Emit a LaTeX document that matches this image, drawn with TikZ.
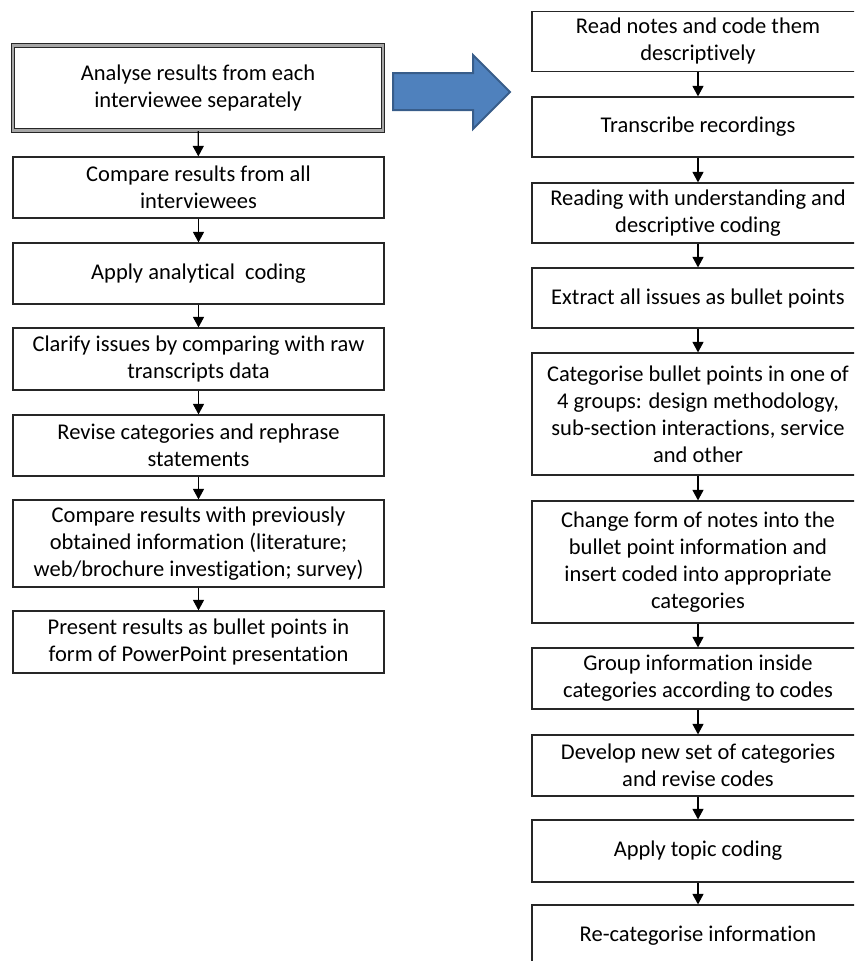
\documentclass[tikz,border=0pt]{standalone}
\usepackage{fontspec}
\setmainfont[RawFeature={-liga}]{Carlito}
\usetikzlibrary{arrows.meta}
\definecolor{arrowfill}{HTML}{4F81BD}
\definecolor{arrowedge}{HTML}{385D8A}
\begin{document}
\begin{tikzpicture}[x=1pt,y=-1pt,
  stepbox/.style={draw=black!85, line width=1.2pt, fill=white, align=center,
    inner sep=0pt, font=\fontsize{22.5}{27}\selectfont},
  leftbox/.style={stepbox, minimum width=371pt},
  rightbox/.style={stepbox, minimum width=332pt},
  firstbox/.style={leftbox, draw=black!85, double=black!35, double distance=2.6pt,
    line width=1.1pt, minimum width=370pt},
  flow/.style={line width=1.2pt, -{Triangle[width=11pt,length=10.5pt]}}]
\useasboundingbox (0,0) rectangle (854,961);
\clip (0,0) rectangle (854,961);

% left column
\node[firstbox, minimum height=85pt] (l1) at (198,88) {Analyse results from each\\interviewee separately};
\node[leftbox, minimum height=61pt] (l2) at (198.5,187.5) {Compare results from all\\interviewees};
\node[leftbox, minimum height=61pt] (l3) at (198.5,273.5) {Apply analytical\ \ coding};
\node[leftbox, minimum height=62pt] (l4) at (198.5,359) {Clarify issues by comparing with raw\\transcripts data};
\node[leftbox, minimum height=61pt] (l5) at (198.5,445.5) {Revise categories and rephrase\\statements};
\node[leftbox, minimum height=87pt] (l6) at (198.5,543.5) {Compare results with previously\\obtained information (literature;\\web/brochure investigation; survey)};
\node[leftbox, minimum height=62pt] (l7) at (198.5,642) {Present results as bullet points in\\form of PowerPoint presentation};

\foreach \a/\b in {l1/l2,l2/l3,l3/l4,l4/l5,l5/l6,l6/l7}
  \draw[flow] (\a) -- (\b);

% block arrow between the columns
\filldraw[fill=arrowfill, draw=arrowedge, line width=2pt, line join=miter]
  (393,73) -- (473,73) -- (473,55) -- (510,92) -- (473,129) -- (473,110) -- (393,110) -- cycle;

% right column
\node[rightbox, minimum height=60pt] (r1) at (698,41.5) {Read notes and code them\\descriptively};
\node[rightbox, minimum height=60pt] (r2) at (698,127) {Transcribe recordings};
\node[rightbox, minimum height=60pt] (r3) at (698,213) {Reading with understanding and\\descriptive coding};
\node[rightbox, minimum height=60pt] (r4) at (698,298) {Extract all issues as bullet points};
\node[rightbox, minimum height=122pt] (r5) at (698,414) {Categorise bullet points in one of\\4 groups: design methodology,\\sub-section interactions, service\\and other};
\node[rightbox, minimum height=122pt] (r6) at (698,562) {Change form of notes into the\\bullet point information and\\insert coded into appropriate\\categories};
\node[rightbox, minimum height=61pt] (r7) at (698,678.5) {Group information inside\\categories according to codes};
\node[rightbox, minimum height=61pt] (r8) at (698,765.5) {Develop new set of categories\\and revise codes};
\node[rightbox, minimum height=62pt] (r9) at (698,851) {Apply topic coding};
\node[rightbox, minimum height=61pt] (r10) at (698,935.5) {Re-categorise information};

\foreach \a/\b in {r1/r2,r2/r3,r3/r4,r4/r5,r5/r6,r6/r7,r7/r8,r8/r9,r9/r10}
  \draw[flow] (\a) -- (\b);
\end{tikzpicture}
\end{document}
